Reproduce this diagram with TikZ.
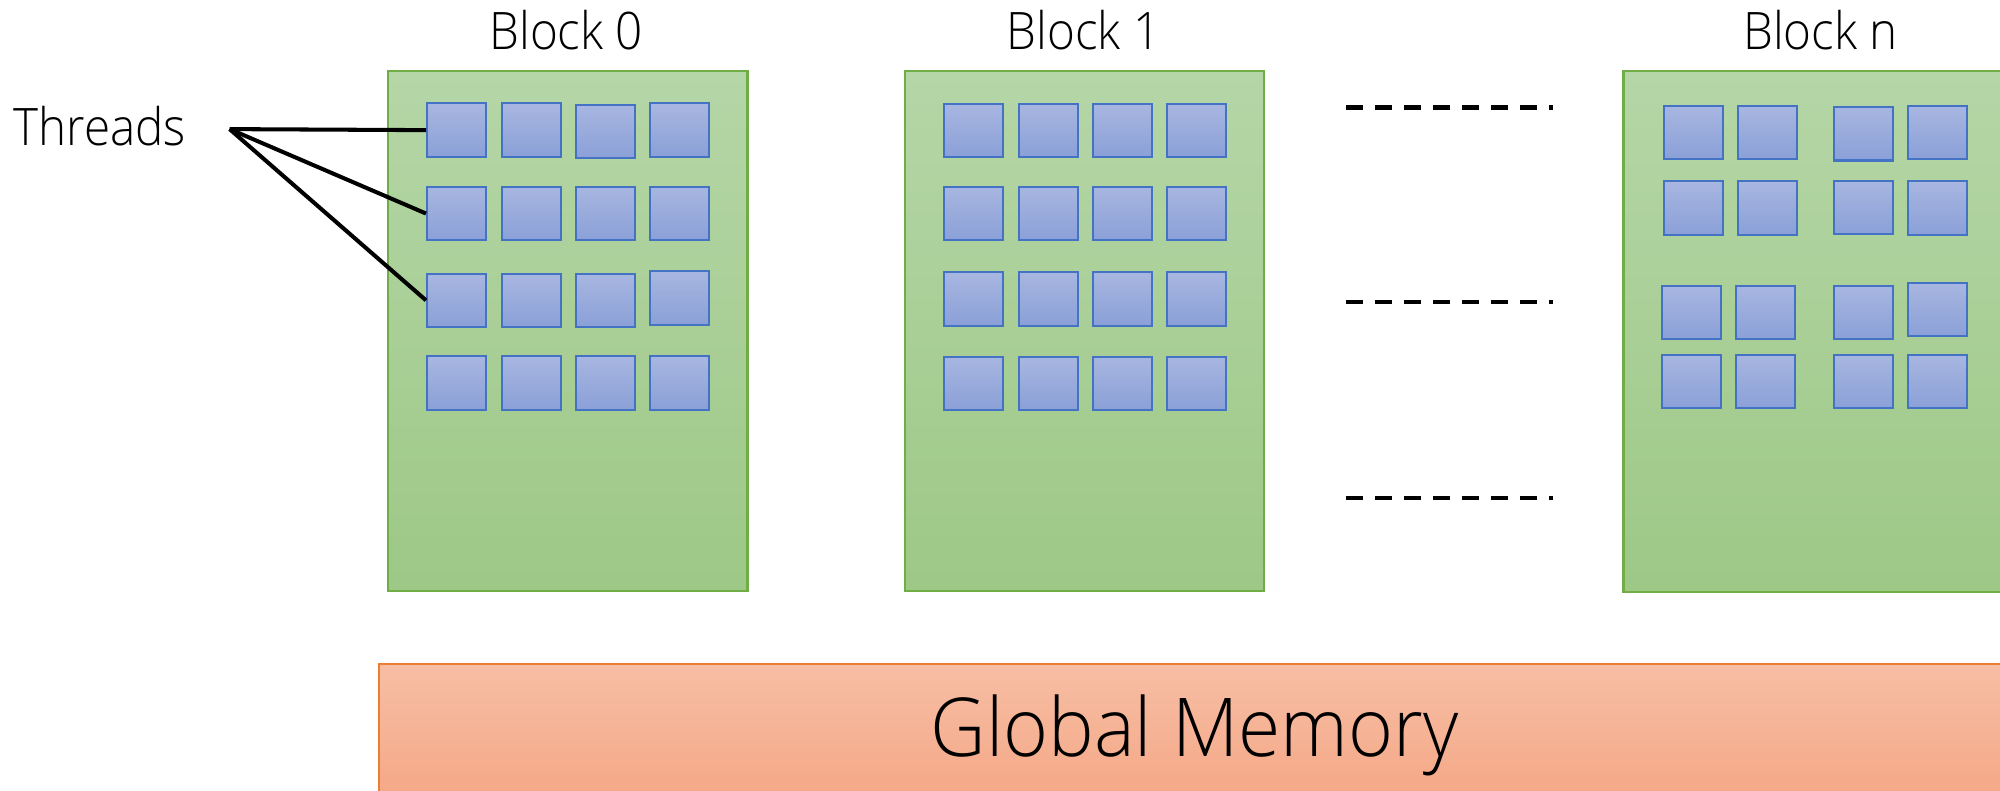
\documentclass[tikz,border=0pt]{standalone}
\usepackage{fontspec}
\setmainfont{Open Sans Light}
\newfontfamily\lblfont{Open Sans Light}[FakeStretch=0.92]
\newfontfamily\memfont{Open Sans Light}[FakeStretch=0.945]
\definecolor{blkTop}{HTML}{B5D6A7}
\definecolor{blkBot}{HTML}{9DC886}
\definecolor{blkLine}{HTML}{70AD47}
\definecolor{thrTop}{HTML}{A8B6E1}
\definecolor{thrBot}{HTML}{8AA0D7}
\definecolor{thrLine}{HTML}{4472C4}
\definecolor{memTop}{HTML}{F7BEA5}
\definecolor{memBot}{HTML}{F4A582}
\definecolor{memLine}{HTML}{ED7D31}
\tikzset{
  blockbox/.style={draw=blkLine, line width=0.6pt, top color=blkTop, bottom color=blkBot,
    inner sep=0pt, anchor=north west},
  thread/.style={draw=thrLine, line width=0.6pt, top color=thrTop, bottom color=thrBot,
    inner sep=0pt, minimum width=0.59cm, minimum height=0.535cm, anchor=north west},
  membox/.style={draw=memLine, line width=0.6pt, top color=memTop, bottom color=memBot,
    inner sep=0pt, anchor=north west},
  lbl/.style={font=\lblfont\fontsize{14.7pt}{16pt}\selectfont, inner sep=0pt, anchor=base},
  fanline/.style={line width=1.15pt, black},
  gap/.style={line width=1.15pt, black, dash pattern=on 0.17cm off 0.12cm},
}
\begin{document}
\begin{tikzpicture}[x=0.01cm, y=-0.01cm]
\useasboundingbox (0,0) rectangle (2000,790);
\clip (0,0) rectangle (2000,790);

% thread blocks
\node[blockbox, minimum width=3.597cm, minimum height=5.191cm] (b0) at (386.5,70.2) {};
\node[blockbox, minimum width=3.584cm, minimum height=5.191cm] (b1) at (904.3,70.2) {};
\node[blockbox, minimum width=3.97cm, minimum height=5.204cm] (bn) at (1622.4,70.2) {};

% block titles
\node[lbl] (t0) at (566.3,49) {Block 0};
\node[lbl] (t1) at (1083.5,49) {Block 1};
\node[lbl] (tn) at (1820.6,49.4) {Block n};

% threads of block 0
\foreach \n/\x/\y in {1-1/426/102.3, 1-2/500.5/102.3, 1-3/574.5/103.7, 1-4/649/102.3,
                      2-1/426/185.7, 2-2/500.5/185.7, 2-3/574.5/185.7, 2-4/649/185.7,
                      3-1/426/272.5, 3-2/500.5/272.5, 3-3/574.5/272.5, 3-4/649/270,
                      4-1/426/355.3, 4-2/500.5/355.3, 4-3/574.5/355.3, 4-4/649/355.3}
  \node[thread] (b0-\n) at (\x,\y) {};

% threads of block 1
\foreach \n/\x/\y in {1-1/943.3/102.6, 1-2/1017.7/102.6, 1-3/1092/102.6, 1-4/1166.3/102.6,
                      2-1/943.3/185.8, 2-2/1017.7/185.8, 2-3/1092/185.8, 2-4/1166.3/185.8,
                      3-1/943.3/271, 3-2/1017.7/271, 3-3/1092/271, 3-4/1166.3/271,
                      4-1/943.3/355.6, 4-2/1017.7/355.6, 4-3/1092/355.6, 4-4/1166.3/355.6}
  \node[thread] (b1-\n) at (\x,\y) {};

% threads of block n
\foreach \n/\x/\y in {1-1/1662.5/104.7, 1-2/1737/104.7, 1-3/1833/105.9, 1-4/1907/104.7,
                      2-1/1662.5/180.2, 2-2/1737/180.2, 2-3/1833/179.8, 2-4/1907/180.2,
                      3-1/1660.7/284.6, 3-2/1735.3/284.6, 3-3/1833/284.6, 3-4/1907/281.8,
                      4-1/1660.7/353.8, 4-2/1735.3/353.8, 4-3/1833/353.8, 4-4/1907/353.8}
  \node[thread] (bn-\n) at (\x,\y) {};

% "Threads" label and its pointers
\node[lbl, anchor=base west] (thr) at (12.8,145) {Threads};
\coordinate (fan) at (229.6,129.1);
\draw[fanline] (fan) -- (b0-1-1.west);
\draw[fanline] (fan) -- (b0-2-1.west);
\draw[fanline] (fan) -- (b0-3-1.west);

% elided blocks
\foreach \i/\y in {1/107.5, 2/302.4, 3/498.4} {
  \coordinate (g\i a) at (1346,\y);
  \coordinate (g\i b) at (1553,\y);
  \draw[gap] (g\i a) -- (g\i b);
}

% global memory
\node[membox, minimum width=16.4cm, minimum height=1.5cm] (gm) at (378,663) {};
\node[lbl, font=\memfont\fontsize{23.1pt}{25pt}\selectfont] (gmt) at (1194.6,756) {Global Memory};
\end{tikzpicture}
\end{document}
